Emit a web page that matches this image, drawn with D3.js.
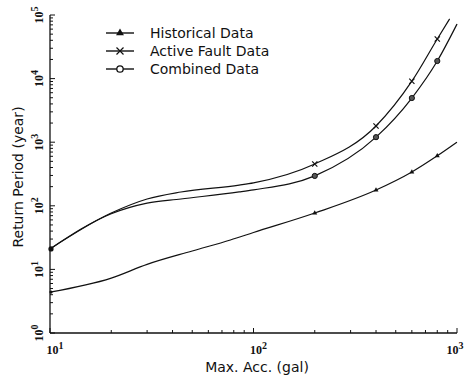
<!DOCTYPE html>
<html>
<head>
<meta charset="utf-8">
<script src="https://cdn.jsdelivr.net/npm/d3@7"></script>
<style>
  body { margin: 0; background: #fff; }
  svg { display: block; }
</style>
</head>
<body>
<script>
// values (x = Max. Acc. in gal, y = return period in years)
var histX = [10, 20, 30, 50, 77, 100, 200, 400, 600, 800, 1000];
var histY = [4.4, 7.3, 12, 19.5, 29, 38, 77, 177, 340, 610, 1000];
var faultX = [10, 20, 30, 44, 85, 100, 200, 400, 600, 800, 920];
var faultY = [21, 77, 128, 165, 212, 230, 454, 1800, 9100, 42000, 87000];
var combX = [10, 20, 30, 44, 85, 100, 200, 400, 600, 800, 1000];
var combY = [21, 75, 110, 128, 165, 178, 295, 1200, 4950, 18900, 72000];
var markerX = [200, 400, 600, 800];
var legendNames = ["Historical Data", "Active Fault Data", "Combined Data"];
var xDecades = [1, 2, 3];
var yDecades = [0, 1, 2, 3, 4, 5];

var width = 465, height = 378;
var svg = d3.select("body").append("svg")
  .attr("width", width)
  .attr("height", height);

var x = d3.scaleLog().domain([10, 1000]).range([50, 457]);
var y = d3.scaleLog().domain([1, 100000]).range([333, 15]);

var ink = "#111";
var serif = "'Liberation Serif', 'DejaVu Serif', serif";
var sans = "'DejaVu Sans', 'Noto Sans', sans-serif";

// axes: only left and bottom, ticks pointing inward
function minorTicks(lo, hi) {
  var out = [];
  for (var e = lo; e < hi; e++) {
    for (var m = 1; m < 10; m++) out.push(m * Math.pow(10, e));
  }
  out.push(Math.pow(10, hi));
  return out;
}

var g = svg.append("g");
g.append("line").attr("x1", x(10)).attr("x2", x(1000)).attr("y1", y(1)).attr("y2", y(1))
  .attr("stroke", ink).attr("stroke-width", 1.3);
g.append("line").attr("x1", x(10)).attr("x2", x(10)).attr("y1", y(1)).attr("y2", y(100000))
  .attr("stroke", ink).attr("stroke-width", 1.3);

g.selectAll(".xt").data(minorTicks(1, 3)).enter().append("line")
  .attr("x1", d => x(d)).attr("x2", d => x(d))
  .attr("y1", y(1)).attr("y2", d => Number.isInteger(Math.log10(d)) ? y(1) - 5 : y(1) - 3)
  .attr("stroke", ink).attr("stroke-width", 1);

g.selectAll(".yt").data(minorTicks(0, 5)).enter().append("line")
  .attr("y1", d => y(d)).attr("y2", d => y(d))
  .attr("x1", x(10)).attr("x2", d => Number.isInteger(Math.log10(d)) ? x(10) + 5 : x(10) + 3)
  .attr("stroke", ink).attr("stroke-width", 1);

// tick labels 10^n
var xl = g.selectAll(".xl").data(xDecades).enter().append("text")
  .attr("x", d => d === 3 ? x(1000) - 2 : x(Math.pow(10, d)) + 5)
  .attr("y", 354)
  .attr("text-anchor", "middle")
  .attr("font-family", serif).attr("font-weight", "bold").attr("font-size", 12)
  .attr("fill", ink);
xl.append("tspan").text("10");
xl.append("tspan").attr("dy", -5).attr("font-size", 10).text(d => d);

var yl = g.selectAll(".yl").data(yDecades).enter().append("text")
  .attr("transform", d => "translate(43," + y(Math.pow(10, d)) + ") rotate(-90)")
  .attr("text-anchor", "middle")
  .attr("font-family", serif).attr("font-weight", "bold").attr("font-size", 12)
  .attr("fill", ink);
yl.append("tspan").text("10");
yl.append("tspan").attr("dy", -5).attr("font-size", 10).text(d => d);

// axis titles
svg.append("text").attr("x", 257).attr("y", 372)
  .attr("text-anchor", "middle")
  .attr("font-family", sans).attr("font-size", 14).attr("fill", ink)
  .text("Max. Acc. (gal)");
svg.append("text")
  .attr("transform", "translate(23,177) rotate(-90)")
  .attr("text-anchor", "middle")
  .attr("font-family", sans).attr("font-size", 14).attr("fill", ink)
  .text("Return Period (year)");

// curves
var line = d3.line()
  .x(d => x(d[0]))
  .y(d => y(d[1]))
  .curve(d3.curveMonotoneX);

function pairs(xs, ys) { return xs.map((v, i) => [v, ys[i]]); }

var histPts = pairs(histX, histY);
var faultPts = pairs(faultX, faultY);
var combPts = pairs(combX, combY);

[histPts, faultPts, combPts].forEach(function(pts) {
  svg.append("path").datum(pts)
    .attr("d", line)
    .attr("fill", "none")
    .attr("stroke", ink)
    .attr("stroke-width", 1.2);
});

// markers
function drawMarker(sel, kind, cx, cy, r) {
  if (kind === 0) {
    sel.append("path")
      .attr("d", d3.symbol().type(d3.symbolTriangle).size(r * r * 2.2)())
      .attr("transform", "translate(" + cx + "," + cy + ")")
      .attr("fill", ink);
  } else if (kind === 1) {
    sel.append("path")
      .attr("d", "M" + (cx - r) + "," + (cy - r) + "L" + (cx + r) + "," + (cy + r) +
                 "M" + (cx - r) + "," + (cy + r) + "L" + (cx + r) + "," + (cy - r))
      .attr("stroke", ink).attr("stroke-width", 1.2);
  } else {
    sel.append("circle").attr("cx", cx).attr("cy", cy).attr("r", r)
      .attr("fill", "#555").attr("stroke", ink).attr("stroke-width", 1);
  }
}

var series = [histPts, faultPts, combPts];
series.forEach(function(pts, k) {
  pts.filter(p => markerX.indexOf(p[0]) >= 0).forEach(function(p) {
    drawMarker(svg, k, x(p[0]), y(p[1]), k === 0 ? 2.2 : 2.6);
  });
});
// heavy blob where the upper curves start
svg.append("circle").attr("cx", x(10) + 1).attr("cy", y(faultY[0])).attr("r", 2.6).attr("fill", ink);
svg.append("circle").attr("cx", x(10) + 1).attr("cy", y(histY[0])).attr("r", 1.6).attr("fill", ink);

// legend
var legend = svg.append("g");
legendNames.forEach(function(name, i) {
  var ly = 33 + i * 18;
  legend.append("line").attr("x1", 106).attr("x2", 134).attr("y1", ly).attr("y2", ly)
    .attr("stroke", ink).attr("stroke-width", 1.4);
  if (i === 2) {
    legend.append("circle").attr("cx", 120).attr("cy", ly).attr("r", 3.2)
      .attr("fill", "#fff").attr("stroke", ink).attr("stroke-width", 1.3);
  } else {
    drawMarker(legend, i, 120, ly, 3.5);
  }
  legend.append("text").attr("x", 150).attr("y", ly + 5)
    .attr("font-family", sans).attr("font-size", 14).attr("fill", ink)
    .text(name);
});
</script>
</body>
</html>
